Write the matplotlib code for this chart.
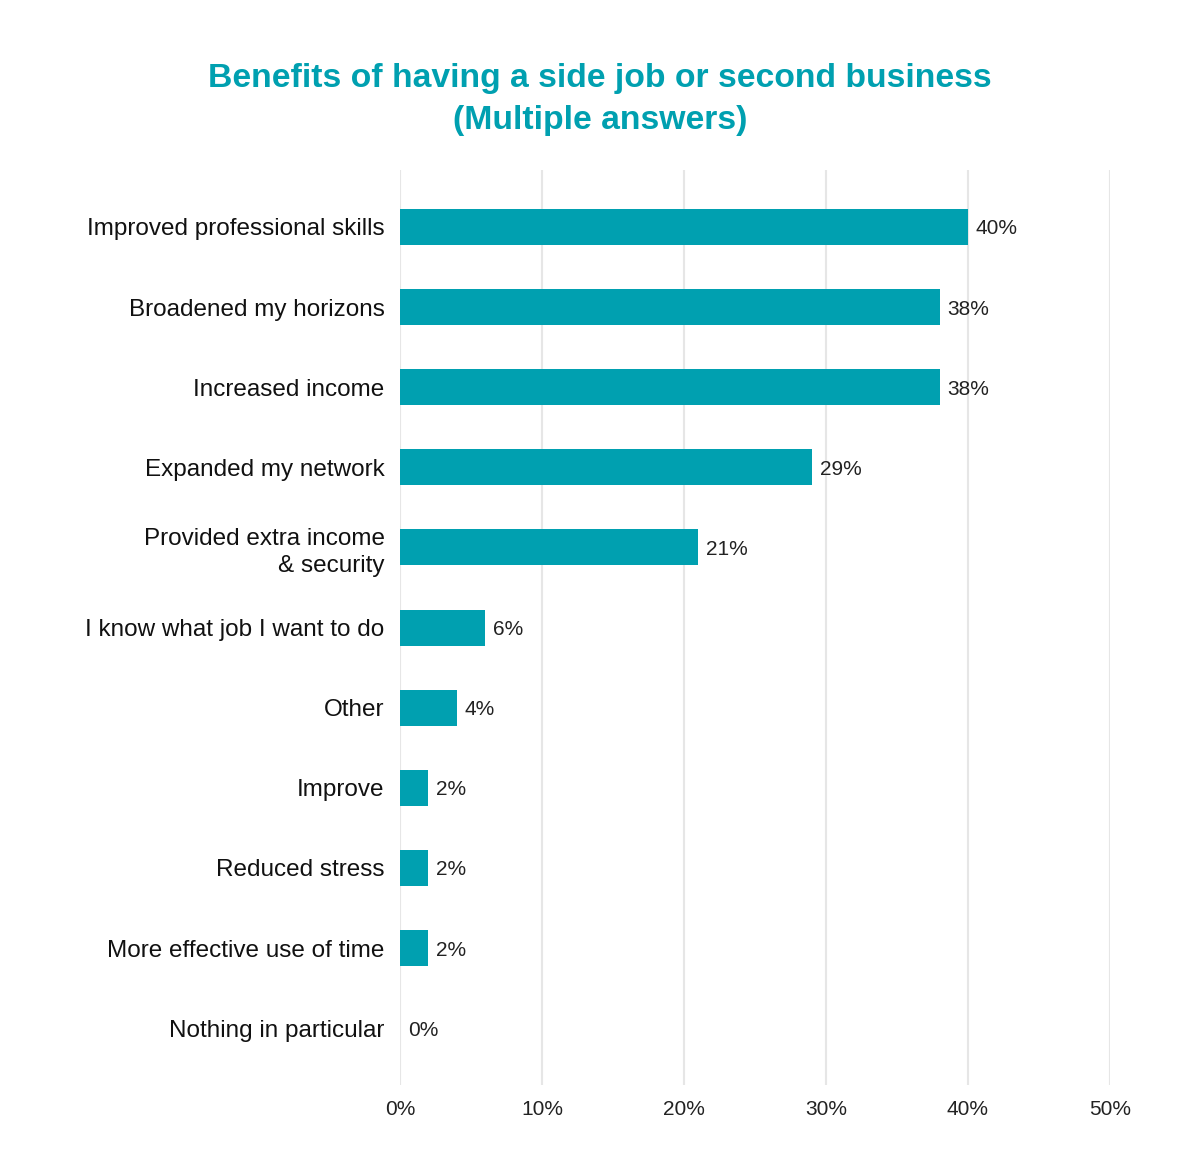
import matplotlib.pyplot as plt

plt.rcParams['font.family'] = ['Liberation Sans', 'DejaVu Sans']

labels = ["Improved professional skills", "Broadened my horizons", "Increased income",
          "Expanded my network", "Provided extra income\n& security",
          "I know what job I want to do", "Other", "Improve", "Reduced stress",
          "More effective use of time", "Nothing in particular"]
values = [40, 38, 38, 29, 21, 6, 4, 2, 2, 2, 0]
xticks = [0, 10, 20, 30, 40, 50]

teal = "#00A0B0"

fig = plt.figure(figsize=(12, 11.7), dpi=100)
ax = fig.add_axes([0.3333, 0.0726, 0.5917, 0.7821])

ypos = list(range(len(labels)))
ax.barh(ypos, values, height=0.45, color=teal, zorder=3)
for y, v in zip(ypos, values):
    ax.text(v + 0.55, y, f"{v}%", va='center_baseline', ha='left', fontsize=15, color='#222222')

ax.set_xlim(0, 50)
ax.set_ylim(len(labels) - 0.29, -0.71)
ax.set_yticks(ypos)
ax.set_yticklabels(labels, fontsize=17.5, color='#111111', linespacing=1.3)
ax.set_xticks(xticks)
ax.set_xticklabels([f"{t}%" for t in xticks], fontsize=15, color='#222222')
ax.tick_params(length=0, pad=11, axis='y')
ax.tick_params(length=0, pad=11, axis='x')
ax.grid(axis='x', color='#e6e6e6', linewidth=1.5, zorder=0)
for s in ax.spines.values():
    s.set_visible(False)

fig.text(0.5, 0.915, "Benefits of having a side job or second business\n(Multiple answers)",
         ha='center', va='center', fontsize=24.3, fontweight='bold', color=teal, linespacing=1.45)

fig.savefig("out.png", dpi=100, facecolor='white')
